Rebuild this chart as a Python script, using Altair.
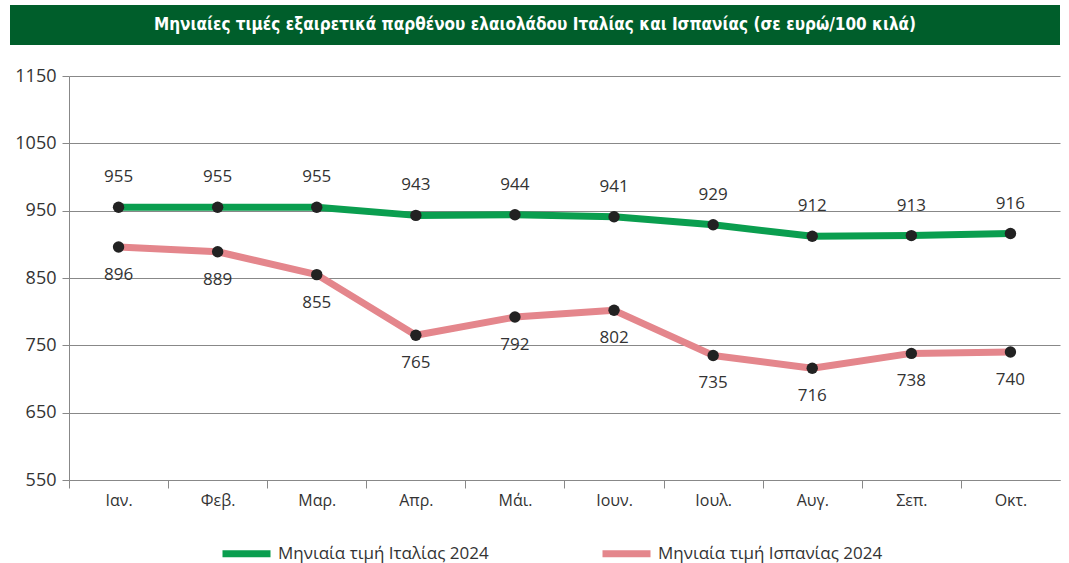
import altair as alt
import pandas as pd

months = ["Ιαν.", "Φεβ.", "Μαρ.", "Απρ.", "Μάι.", "Ιουν.", "Ιουλ.", "Αυγ.", "Σεπ.", "Οκτ."]
italy = [955, 955, 955, 943, 944, 941, 929, 912, 913, 916]
spain = [896, 889, 855, 765, 792, 802, 735, 716, 738, 740]
series = ["Μηνιαία τιμή Ιταλίας 2024", "Μηνιαία τιμή Ισπανίας 2024"]
colors = ["#0A9E4F", "#E4868C"]
y_ticks = [550, 650, 750, 850, 950, 1050, 1150]
title_text = ["Μηνιαίες τιμές εξαιρετικά παρθένου ελαιολάδου Ιταλίας και Ισπανίας (σε ευρώ/100 κιλά)"]

df = pd.DataFrame({
    "month": months * 2,
    "value": italy + spain,
    "series": [series[0]] * len(months) + [series[1]] * len(months),
})
title_df = pd.DataFrame({"t": title_text})

W, H = 991, 404
step = W / len(months)
FONT = "Open Sans"

x_enc = alt.X(
    "month:N", sort=months,
    scale=alt.Scale(type="point", padding=0.5),
    axis=alt.Axis(title=None, labelAngle=0, domainColor="#888", tickColor="#888",
                  tickSize=8, tickOffset=-step / 2, labelOffset=step / 2,
                  labelFontSize=16, labelColor="#333", labelFont=FONT,
                  labelPadding=4, grid=False),
)
y_enc = alt.Y(
    "value:Q",
    scale=alt.Scale(domain=[550, 1150], nice=False, zero=False),
    axis=alt.Axis(title=None, values=y_ticks, format="d", grid=True, gridColor="#888",
                  domainColor="#888", tickColor="#888", tickSize=7,
                  labelFontSize=18, labelColor="#333", labelFont=FONT,
                  labelPadding=6),
)

base = alt.Chart(df)

lines = base.mark_line(strokeWidth=7, strokeCap="round", strokeJoin="round").encode(
    x=x_enc, y=y_enc,
    color=alt.Color("series:N", sort=series,
                    scale=alt.Scale(domain=series, range=colors),
                    legend=alt.Legend(title=None, orient="none", direction="horizontal",
                                      legendX=150, legendY=450, symbolType="stroke",
                                      symbolSize=2304, symbolStrokeWidth=7,
                                      labelFontSize=17, labelColor="#333", labelFont=FONT,
                                      labelOffset=4, labelLimit=400, columnPadding=99)),
)
points = base.mark_circle(size=130, color="#222", opacity=1).encode(x=x_enc, y=y_enc)

lab_it = base.transform_filter(alt.datum.series == series[0]).mark_text(
    dy=-30, fontSize=17, color="#333", font=FONT).encode(x=x_enc, y=y_enc, text="value:Q")
lab_es = base.transform_filter(alt.datum.series == series[1]).mark_text(
    dy=28, fontSize=17, color="#333", font=FONT).encode(x=x_enc, y=y_enc, text="value:Q")

banner = alt.Chart(title_df).mark_rect(color="#005E2B").encode(
    x=alt.value(-59), x2=alt.value(W), y=alt.value(-71), y2=alt.value(-31))
title = alt.Chart(title_df).mark_text(
    color="white", font="DejaVu Sans Condensed", fontWeight="bold", fontSize=17,
    align="center", baseline="middle").encode(
    x=alt.value(466), y=alt.value(-51), text="t:N")

chart = alt.layer(banner, title, lines, points, lab_it, lab_es).properties(
    width=W, height=H,
    autosize=alt.AutoSizeParams(type="none"),
    padding={"left": 69, "top": 76, "right": 9, "bottom": 83},
    background="white",
).configure_view(stroke=None)

chart.save("out.html", embed_options={"renderer": "svg", "actions": False})
